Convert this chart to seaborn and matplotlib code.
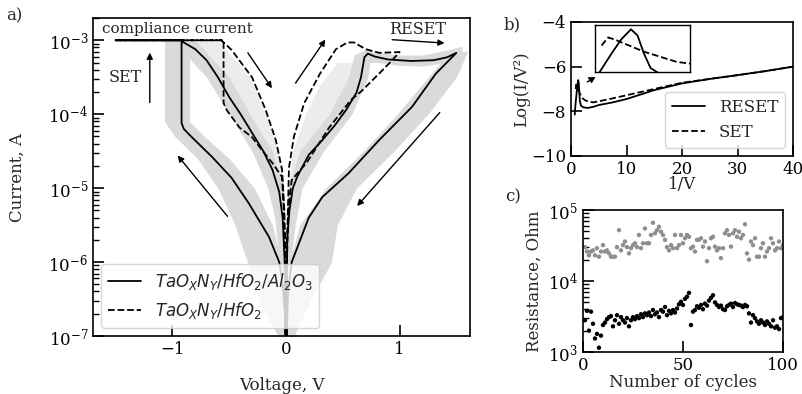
import numpy as np
import pandas as pd
import seaborn as sns
import matplotlib.pyplot as plt

# ---------------- a) I-V loops: voltage (V) and log10 of current (A) ----------------
# TaOxNy/HfO2/Al2O3 (solid), one full sweep
tri_v = [-0.003, -0.01, -0.03, -0.06, -0.15, -0.33, -0.48, -0.65, -0.83, -0.9, -0.92, -0.92, -1.5, -0.92,
         -0.90, -0.8, -0.7, -0.6, -0.5, -0.4, -0.3, -0.2, -0.12, -0.06, -0.03, -0.012, -0.003,
         0.003, 0.01, 0.03, 0.06, 0.10, 0.2, 0.32, 0.43, 0.53, 0.62, 0.66, 0.69, 0.72, 0.78, 0.9, 1.1, 1.3, 1.42, 1.5,
         1.32, 1.11, 0.82, 0.55, 0.32, 0.2, 0.115, 0.05, 0.018, 0.004]
tri_logi = [-7.1, -6.7, -6.3, -6.0, -5.66, -5.2, -4.86, -4.58, -4.31, -4.2, -4.12, -3.0, -3.0, -3.0,
            -3.03, -3.12, -3.27, -3.5, -3.77, -4.0, -4.25, -4.5, -4.75, -5.05, -5.4, -6.0, -7.1,
            -7.1, -5.7, -5.3, -5.0, -4.84, -4.55, -4.35, -4.15, -3.94, -3.71, -3.5, -3.23, -3.18, -3.22, -3.26, -3.28, -3.27, -3.23, -3.17,
            -3.45, -3.9, -4.35, -4.8, -5.12, -5.4, -5.74, -6.0, -6.4, -7.1]

# TaOxNy/HfO2 (dashed)
bi_v = [-0.002, -0.008, -0.02, -0.035, -0.12, -0.21, -0.3, -0.41, -0.52, -0.55, -0.55, -1.5, -0.57,
        -0.48, -0.3, -0.18, -0.09, -0.035, -0.015, -0.006, -0.002,
        0.002, 0.008, 0.026, 0.07, 0.16, 0.3, 0.44, 0.54, 0.6, 0.7, 0.82, 1.0,
        0.91, 0.82, 0.67, 0.57, 0.38, 0.18, 0.1, 0.05, 0.02, 0.008, 0.002]
bi_logi = [-7.1, -6.0, -5.3, -4.85, -4.66, -4.49, -4.31, -4.18, -3.95, -3.85, -3.0, -3.0, -3.0,
           -3.13, -3.5, -3.94, -4.35, -4.75, -5.3, -6.0, -7.1,
           -7.1, -5.8, -4.72, -4.3, -3.85, -3.45, -3.12, -3.03, -3.03, -3.12, -3.17, -3.16,
           -3.31, -3.45, -3.68, -3.81, -4.18, -4.66, -4.8, -4.89, -5.3, -6.0, -7.1]

# spread of the 100 cycles (grey), per branch: log10 current levels, voltage bounds
set_lvl = [-7.1, -6.6, -6.0, -5.5, -5.0, -4.6, -4.3, -4.1, -3.0]
set_vlo = [-0.03, -0.22, -0.34, -0.45, -0.6, -0.78, -0.98, -1.07, -1.07]
set_vhi = [0.0, -0.01, -0.04, -0.12, -0.28, -0.5, -0.72, -0.85, -0.85]

lrsl_lvl = [-7.1, -6.0, -5.4, -5.0, -4.5, -4.0, -3.5, -3.0]
lrsl_vlo = [-0.02, -0.06, -0.1, -0.16, -0.3, -0.5, -0.7, -1.0]
lrsl_vhi = [0.0, 0.0, -0.01, -0.02, -0.12, -0.32, -0.5, -0.8]

lrsr_lvl = [-7.1, -6.0, -5.5, -5.0, -4.5, -4.0, -3.5, -3.2]
lrsr_vlo = [0.0, 0.0, 0.0, 0.02, 0.12, 0.38, 0.55, 0.6]
lrsr_vhi = [0.01, 0.04, 0.08, 0.14, 0.33, 0.58, 0.72, 0.75]

reset_lvl = [-7.1, -6.5, -6.0, -5.5, -5.0, -4.5, -4.0, -3.5, -3.15]
reset_vlo = [0.0, 0.01, 0.03, 0.12, 0.35, 0.68, 0.98, 1.25, 1.45]
reset_vhi = [0.04, 0.22, 0.4, 0.45, 0.62, 0.95, 1.25, 1.5, 1.6]

plat_v = [0.6, 0.7, 0.8, 1.0, 1.2, 1.4, 1.55]
plat_lo = [-3.55, -3.3, -3.3, -3.34, -3.35, -3.3, -3.27]
plat_hi = [-3.2, -3.12, -3.16, -3.2, -3.2, -3.14, -3.08]

# fainter single cycles toward the dashed curves
faint_r_lvl = [-6.0, -5.5, -5.0, -4.5, -4.0, -3.6, -3.3]
faint_r_vlo = [0.0, 0.005, 0.02, 0.06, 0.17, 0.3, 0.45]
faint_r_vhi = [0.02, 0.04, 0.06, 0.15, 0.4, 0.58, 0.62]
faint_l_lvl = [-5.0, -4.5, -4.0, -3.5, -3.0]
faint_l_vlo = [-0.05, -0.15, -0.35, -0.55, -0.85]
faint_l_vhi = [-0.02, -0.07, -0.18, -0.32, -0.6]

# ---------------- b) Fowler-Nordheim plot ----------------
fn_x_reset = [0.67, 0.8, 0.9, 1.0, 1.15, 1.3, 1.4, 1.5, 1.6, 1.8, 2.2, 3.0, 4.0, 5.0, 7.5, 10, 15, 20, 25, 30, 35, 40]
fn_reset = [-8.15, -7.7, -7.45, -7.2, -6.85, -6.6, -6.75, -7.2, -7.55, -7.75, -7.82, -7.85, -7.8, -7.72, -7.6, -7.45,
            -7.05, -6.75, -6.55, -6.38, -6.2, -6.0]
fn_x_set = [0.85, 0.95, 1.05, 1.2, 1.5, 2.0, 2.5, 3.0, 4.0, 5.0, 7.5, 10, 15, 20, 25, 30, 35, 40]
fn_set = [-7.0, -6.8, -6.85, -6.95, -7.15, -7.4, -7.5, -7.55, -7.6, -7.55, -7.42, -7.28, -7.0, -6.72, -6.55,
          -6.38, -6.2, -6.0]

# ---------------- c) endurance ----------------
cycles = np.arange(1, 101)
r_hrs = [3.0e4, 2.6e4, 2.3e4, 2.6e4, 2.7e4, 2.3e4, 2.9e4, 2.2e4, 2.6e4, 3.2e4,
         2.6e4, 2.7e4, 2.45e4, 2.2e4, 2.2e4, 2.2e4, 3.0e4, 5.2e4, 2.7e4, 3.2e4,
         3.6e4, 3.0e4, 2.45e4, 2.9e4, 3.2e4, 3.4e4, 3.0e4, 4.45e4, 2.9e4, 3.4e4,
         5.5e4, 3.4e4, 3.4e4, 4.45e4, 6.6e4, 4.7e4, 5.2e4, 5.8e4, 4.95e4, 4.45e4,
         3.8e4, 3.0e4, 2.7e4, 3.2e4, 2.9e4, 4.45e4, 2.9e4, 3.2e4, 4.45e4, 3.4e4,
         4.0e4, 4.45e4, 4.2e4, 2.9e4, 3.05e4, 2.6e4, 3.8e4, 3.8e4, 4.0e4, 3.05e4,
         3.6e4, 1.9e4, 2.9e4, 4.0e4, 4.2e4, 3.05e4, 2.7e4, 2.9e4, 2.1e4, 2.9e4,
         4.7e4, 5.2e4, 4.45e4, 3.05e4, 4.7e4, 5.2e4, 4.2e4, 4.95e4, 4.0e4, 4.45e4,
         6.3e4, 2.45e4, 2.0e4, 3.6e4, 3.2e4, 4.0e4, 2.2e4, 2.2e4, 2.9e4, 3.4e4,
         2.2e4, 2.6e4, 2.9e4, 4.0e4, 3.4e4, 2.7e4, 2.9e4, 3.6e4, 2.9e4, 3.2e4]
r_lrs = [2.8e3, 3.8e3, 2.0e3, 3.7e3, 2.5e3, 1.55e3, 1.8e3, 1.15e3, 1.7e3, 2.4e3,
         2.6e3, 2.9e3, 3.1e3, 3.2e3, 2.3e3, 2.8e3, 3.3e3, 2.5e3, 3.1e3, 2.8e3,
         2.6e3, 3.0e3, 2.3e3, 2.8e3, 3.1e3, 2.9e3, 3.2e3, 3.0e3, 3.4e3, 3.1e3,
         3.5e3, 3.3e3, 3.6e3, 3.2e3, 3.9e3, 3.4e3, 3.6e3, 3.1e3, 3.9e3, 3.7e3,
         4.3e3, 3.3e3, 3.8e3, 3.5e3, 3.9e3, 3.6e3, 4.1e3, 4.7e3, 5.1e3, 4.6e3,
         5.6e3, 6.0e3, 6.8e3, 2.4e3, 3.7e3, 3.9e3, 4.4e3, 4.2e3, 4.6e3, 4.0e3,
         4.8e3, 4.5e3, 5.3e3, 5.8e3, 6.3e3, 5.0e3, 4.6e3, 4.3e3, 4.5e3, 4.0e3,
         3.9e3, 4.4e3, 4.6e3, 4.8e3, 4.3e3, 4.9e3, 4.7e3, 4.6e3, 4.5e3, 4.3e3,
         4.6e3, 4.4e3, 3.5e3, 2.6e3, 3.3e3, 3.0e3, 2.7e3, 2.5e3, 2.8e3, 2.6e3,
         2.4e3, 2.7e3, 2.5e3, 2.3e3, 2.8e3, 2.2e3, 2.3e3, 2.1e3, 3.0e3, 3.1e3]

sns.set_theme(style='ticks')
plt.rcParams['font.family'] = 'DejaVu Serif'
plt.rcParams['mathtext.fontset'] = 'dejavusans'
plt.rcParams['font.size'] = 12
plt.rcParams['axes.labelsize'] = 12
plt.rcParams['xtick.labelsize'] = 12
plt.rcParams['ytick.labelsize'] = 12
plt.rcParams['legend.fontsize'] = 12
plt.rcParams['axes.edgecolor'] = 'black'
plt.rcParams['axes.linewidth'] = 1.2
plt.rcParams['xtick.color'] = 'black'
plt.rcParams['ytick.color'] = 'black'
plt.rcParams['xtick.direction'] = 'in'
plt.rcParams['ytick.direction'] = 'in'
plt.rcParams['xtick.major.size'] = 8
plt.rcParams['ytick.major.size'] = 8
plt.rcParams['xtick.minor.size'] = 4.5
plt.rcParams['ytick.minor.size'] = 4.5
plt.rcParams['xtick.major.width'] = 1.2
plt.rcParams['ytick.major.width'] = 1.2
plt.rcParams['ytick.minor.width'] = 1.0

GREY = '#dadada'
FAINT = '#ececec'
amp = lambda lv: np.power(10.0, np.asarray(lv))

fig = plt.figure(figsize=(8.03, 3.94), dpi=100)
ax_a = fig.add_axes([0.1158, 0.1472, 0.4695, 0.8071])
ax_b = fig.add_axes([0.7111, 0.6041, 0.2765, 0.3401])
ax_c = fig.add_axes([0.7260, 0.1066, 0.2491, 0.3604])
ax_in = fig.add_axes([0.741, 0.817, 0.118, 0.119])

# ---- a) ----
for lvl, lo, hi in [(faint_r_lvl, faint_r_vlo, faint_r_vhi), (faint_l_lvl, faint_l_vlo, faint_l_vhi)]:
    ax_a.fill_betweenx(amp(lvl), lo, hi, color=FAINT, lw=0, zorder=1)
for lvl, lo, hi in [(set_lvl, set_vlo, set_vhi), (lrsl_lvl, lrsl_vlo, lrsl_vhi),
                    (lrsr_lvl, lrsr_vlo, lrsr_vhi), (reset_lvl, reset_vlo, reset_vhi)]:
    ax_a.fill_betweenx(amp(lvl), lo, hi, color=GREY, lw=0, zorder=1)
ax_a.fill_between(plat_v, amp(plat_lo), amp(plat_hi), color=GREY, lw=0, zorder=1)

iv_tri = pd.DataFrame({'V': tri_v, 'I': amp(tri_logi)})
iv_bi = pd.DataFrame({'V': bi_v, 'I': amp(bi_logi)})
sns.lineplot(iv_tri, x='V', y='I', sort=False, estimator=None, color='black', lw=1.3, ax=ax_a,
             label=r'$TaO_XN_Y/HfO_2/Al_2O_3$', zorder=3)
sns.lineplot(iv_bi, x='V', y='I', sort=False, estimator=None, color='black', lw=1.3, ls='--', ax=ax_a,
             label=r'$TaO_XN_Y/HfO_2$', zorder=3)
ax_a.set_yscale('log')
ax_a.set_xlim(-1.7, 1.62)
ax_a.set_ylim(1e-7, 2e-3)
ax_a.set_xticks([-1, 0, 1])
ax_a.set_xlabel('Voltage, V', labelpad=14)
ax_a.set_ylabel('Current, A', labelpad=16)
ax_a.tick_params(which='both', top=False, right=False)

arrows = [((-1.2, -3.88), (-1.2, -3.13)), ((0.91, -2.99), (1.42, -3.04)),
          ((-0.35, -3.14), (-0.11, -3.68)), ((0.07, -3.61), (0.36, -2.96)),
          ((-0.50, -5.41), (-0.97, -4.53)), ((1.37, -3.95), (0.61, -5.27))]
for tail, head in arrows:
    ax_a.annotate('', xy=(head[0], 10 ** head[1]), xytext=(tail[0], 10 ** tail[1]),
                  arrowprops=dict(arrowstyle='-|>', color='black', lw=1.0, mutation_scale=9))
ax_a.text(-1.62, 10 ** -2.85, 'compliance current', ha='left', va='center', fontsize=11)
ax_a.text(-1.56, 10 ** -3.5, 'SET', ha='left', va='center', fontsize=11.5)
ax_a.text(0.907, 10 ** -2.85, 'RESET', ha='left', va='center', fontsize=11.5)
ax_a.legend(loc='lower left', fontsize=12)

# ---- b) ----
sns.lineplot(x=fn_x_reset, y=fn_reset, sort=False, estimator=None, color='black', lw=1.3, ax=ax_b, label='RESET')
sns.lineplot(x=fn_x_set, y=fn_set, sort=False, estimator=None, color='black', lw=1.3, ls='--', ax=ax_b, label='SET')
ax_b.set_xlim(0, 40)
ax_b.set_ylim(-10, -4)
ax_b.set_yticks([-10, -8, -6, -4])
ax_b.set_xticks([0, 10, 20, 30, 40])
ax_b.set_xlabel('1/V', labelpad=-1)
ax_b.set_ylabel('Log(I/V²)', labelpad=1)
ax_b.tick_params(which='both', top=False, right=False)
ax_b.legend(loc='lower right')
ax_b.annotate('', xy=(4.9, -6.39), xytext=(2.5, -6.75),
              arrowprops=dict(arrowstyle='-|>', color='black', lw=1.0, ls='--', mutation_scale=9))

sns.lineplot(x=fn_x_reset, y=fn_reset, sort=False, estimator=None, color='black', lw=1.3, ax=ax_in)
sns.lineplot(x=fn_x_set, y=fn_set, sort=False, estimator=None, color='black', lw=1.3, ls='--', ax=ax_in)
ax_in.set_xlim(0.75, 2.2)
ax_in.set_ylim(-7.65, -6.5)
ax_in.set_xticks([])
ax_in.set_yticks([])
ax_in.set_xlabel('')
ax_in.set_ylabel('')
for s in ax_in.spines.values():
    s.set_linewidth(1.0)

# ---- c) ----
sns.scatterplot(x=cycles, y=r_hrs, color='#8e8e8e', s=10, edgecolor='none', ax=ax_c)
sns.scatterplot(x=cycles, y=r_lrs, color='black', s=10, edgecolor='none', ax=ax_c)
ax_c.set_yscale('log')
ax_c.set_xlim(0, 100)
ax_c.set_ylim(1e3, 1e5)
ax_c.set_xticks([0, 50, 100])
ax_c.set_xlabel('Number of cycles', labelpad=0)
ax_c.set_ylabel('Resistance, Ohm')
ax_c.tick_params(which='both', top=False, right=False)

fig.text(0.008, 0.96, 'a)', ha='left', va='center')
fig.text(0.627, 0.937, 'b)', ha='left', va='center')
fig.text(0.629, 0.50, 'c)', ha='left', va='center')

fig.savefig('out.png', dpi=100)
